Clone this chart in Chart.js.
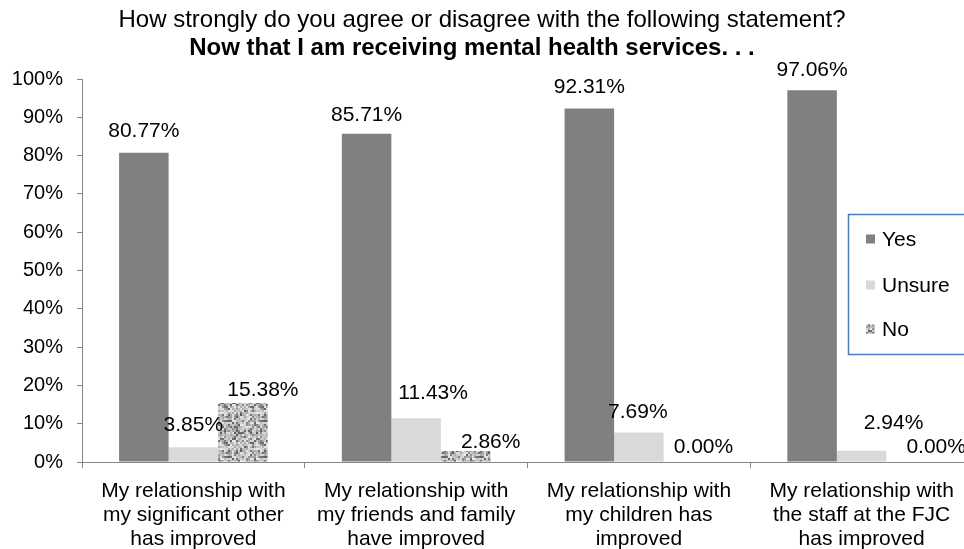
<!DOCTYPE html>
<html>
<head>
<meta charset="utf-8">
<script src="https://cdn.jsdelivr.net/npm/chart.js@4"></script>
<style>
  body { margin: 0; overflow: hidden; background: #fff; }
  #wrap { position: relative; width: 964px; height: 549px; overflow: hidden; }
  canvas { position: absolute; left: 0; top: 0; }
</style>
</head>
<body>
<div id="wrap"><canvas id="grafica" width="980" height="549"></canvas></div>
<script>
const categorias = [
    ['My relationship with', 'my significant other', 'has improved'],
    ['My relationship with', 'my friends and family', 'have improved'],
    ['My relationship with', 'my children has', 'improved'],
    ['My relationship with', 'the staff at the FJC', 'has improved']
];
const si = [80.77, 85.71, 92.31, 97.06];
const noSeguro = [3.85, 11.43, 7.69, 2.94];
const no = [15.38, 2.86, 0.00, 0.00];
const nombresSeries = ['Yes', 'Unsure', 'No'];
const ticksY = [0, 10, 20, 30, 40, 50, 60, 70, 80, 90, 100];

// small nudges for the data labels, [dx, dy] per series and category
const ajustes = [
    [[0, 0], [0, 2], [0, 0], [0, 1]],
    [[0, -1], [17, -4], [-1, 1], [32, -7]],
    [[20, 8], [25, 12], [15, 6], [25, 6]]
];

const FUENTE = '"Liberation Sans", Arial, sans-serif';

// textura gris tipo ruido para la serie "No"
const hacerTextura = () => {
    const base = document.createElement('canvas');
    base.width = 36; base.height = 36;
    const g = base.getContext('2d');
    let semilla = 98765;
    const sig = () => { semilla = (semilla * 1103515245 + 12345) % 2147483648; return semilla / 2147483648; };
    for (let y = 0; y < 36; y += 2) {
        for (let x = 0; x < 36; x += 2) {
            const r = sig();
            const v = r < 0.25 ? Math.floor(90 + sig() * 60) : Math.floor(165 + sig() * 70);
            g.fillStyle = 'rgb(' + v + ',' + v + ',' + v + ')';
            g.fillRect(x, y, 2, 2);
        }
    }
    const c = document.createElement('canvas');
    c.width = 36; c.height = 36;
    const g2 = c.getContext('2d');
    g2.filter = 'blur(0.7px)';
    for (let dx = -36; dx <= 36; dx += 36) {
        for (let dy = -36; dy <= 36; dy += 36) g2.drawImage(base, dx, dy);
    }
    return g2.createPattern(c, 'repeat');
};
const textura = hacerTextura();
const colores = ['#808080', '#d9d9d9', textura];

const tituloPlugin = {
    id: 'titulo',
    afterDraw(chart) {
        const ctx = chart.ctx;
        ctx.save();
        ctx.fillStyle = '#000';
        ctx.textAlign = 'center';
        ctx.textBaseline = 'middle';
        ctx.font = '24px ' + FUENTE;
        ctx.fillText('How strongly do you agree or disagree with the following statement?', 482, 20);
        ctx.font = 'bold 24px ' + FUENTE;
        ctx.fillText('Now that I am receiving mental health services. . .', 472, 48.5);
        ctx.restore();
    }
};

const etiquetasPlugin = {
    id: 'etiquetas',
    afterDatasetsDraw(chart) {
        const ctx = chart.ctx;
        ctx.save();
        ctx.fillStyle = '#000';
        ctx.font = '21px ' + FUENTE;
        ctx.textAlign = 'center';
        ctx.textBaseline = 'middle';
        chart.data.datasets.forEach((ds, i) => {
            const meta = chart.getDatasetMeta(i);
            meta.data.forEach((bar, j) => {
                const a = ajustes[i][j];
                ctx.fillText(ds.data[j].toFixed(2) + '%', bar.x + a[0], bar.y - 21 + a[1]);
            });
        });
        ctx.restore();
    }
};

const leyendaPlugin = {
    id: 'leyenda',
    afterDraw(chart) {
        const ctx = chart.ctx;
        ctx.save();
        ctx.fillStyle = '#fff';
        ctx.fillRect(848, 214, 140, 140);
        ctx.strokeStyle = '#4a7ebb';
        ctx.lineWidth = 1.5;
        ctx.strokeRect(848.5, 214.5, 140, 140);
        const ys = [239, 285, 329];
        ctx.font = '21px ' + FUENTE;
        ctx.textBaseline = 'middle';
        ctx.textAlign = 'left';
        nombresSeries.forEach((n, i) => {
            ctx.fillStyle = colores[i];
            ctx.fillRect(866, ys[i] - 4.5, 9, 9);
            ctx.fillStyle = '#000';
            ctx.fillText(n, 882, ys[i] + 1);
        });
        ctx.restore();
    }
};

const init = () => {
    const ctx = document.getElementById('grafica');
    new Chart(ctx, {
        type: 'bar',
        data: {
            labels: categorias,
            datasets: [si, noSeguro, no].map((d, i) => ({
                label: nombresSeries[i],
                data: d,
                backgroundColor: colores[i],
                borderWidth: 0,
                categoryPercentage: 0.667,
                barPercentage: 1
            }))
        },
        options: {
            responsive: false,
            animation: false,
            layout: { padding: { top: 79, right: 7, left: 0, bottom: 0 } },
            plugins: { legend: { display: false }, tooltip: { enabled: false }, title: { display: false } },
            scales: {
                y: {
                    min: 0,
                    max: 100,
                    afterBuildTicks: (s) => { s.ticks = ticksY.map(v => ({ value: v })); },
                    afterFit: (s) => { s.width = 82; },
                    ticks: {
                        callback: (v) => v + '%',
                        color: '#000',
                        font: { family: FUENTE, size: 20 },
                        padding: 14
                    },
                    grid: { drawOnChartArea: false, drawTicks: true, tickLength: 5, color: '#868686' },
                    border: { color: '#868686', width: 1 }
                },
                x: {
                    afterFit: (s) => { s.height = 87; },
                    ticks: {
                        color: '#000',
                        font: { family: FUENTE, size: 21, lineHeight: 1.143 },
                        maxRotation: 0,
                        autoSkip: false,
                        padding: 11
                    },
                    grid: { drawOnChartArea: false, drawTicks: true, tickLength: 6, color: '#868686', offset: true },
                    border: { color: '#868686', width: 1 }
                }
            }
        },
        plugins: [tituloPlugin, etiquetasPlugin, leyendaPlugin]
    });
};

init();
</script>
</body>
</html>
